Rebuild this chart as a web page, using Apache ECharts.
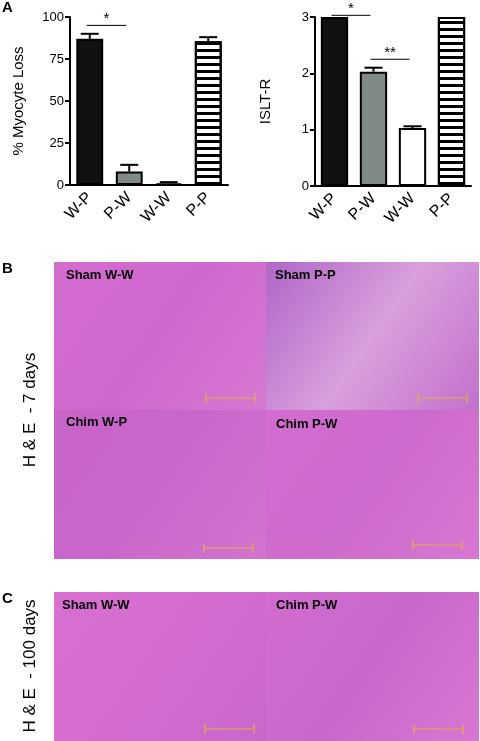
<!DOCTYPE html>
<html><head><meta charset="utf-8">
<script src="https://cdn.jsdelivr.net/npm/echarts@6/dist/echarts.min.js"></script>
<style>html,body{margin:0;padding:0;background:#fff}#c{width:480px;height:741px}</style>
</head><body><div id="c"></div>
<script>
// data
const groups = ['W-P', 'P-W', 'W-W', 'P-P'];
const lossValues = [87, 8, 1, 85.5];
const lossErrors = [3, 4, 0.7, 2.5];
const isltValues = [3, 2.03, 1.03, 3];
const isltErrors = [0, 0.07, 0.03, 0];
const lossTicks = [0, 25, 50, 75, 100];
const isltTicks = [0, 1, 2, 3];

const chart = echarts.init(document.getElementById('c'));
const FONT = 'Liberation Sans, Arial, sans-serif';

// bar styles per group
function barStyle(i) {
    const base = { borderColor: '#000', borderWidth: 2 };
    if (i === 0) return Object.assign(base, { color: '#111' });
    if (i === 1) return Object.assign(base, { color: '#7f8a85' });
    if (i === 2) return Object.assign(base, { color: '#fff' });
    return Object.assign(base, {
        color: '#fff',
        decal: { symbol: 'rect', symbolSize: 1, color: '#000', dashArrayX: [1, 0], dashArrayY: [3, 3.5], rotation: 0 }
    });
}
function barData(vals) {
    return vals.map((v, i) => ({ value: v, itemStyle: barStyle(i) }));
}
function errSeries(idx, vals, errs) {
    return {
        type: 'custom', xAxisIndex: idx, yAxisIndex: idx, z: 1,
        data: vals.map((v, i) => [i, v, errs[i]]),
        renderItem: function (params, api) {
            const i = api.value(0), v = api.value(1), e = api.value(2);
            if (!e) return null;
            const a = api.coord([i, v]), b = api.coord([i, v + e]);
            const st = { stroke: '#000', lineWidth: 2 };
            return { type: 'group', children: [
                { type: 'line', shape: { x1: a[0], y1: a[1], x2: b[0], y2: b[1] }, style: st },
                { type: 'line', shape: { x1: b[0] - 9, y1: b[1], x2: b[0] + 9, y2: b[1] }, style: st }
            ] };
        }
    };
}
function xAx(idx) {
    return {
        type: 'category', gridIndex: idx, data: groups,
        axisLine: { lineStyle: { color: '#000', width: 2 } },
        axisTick: { alignWithLabel: true, length: 6, lineStyle: { color: '#000', width: 2 } },
        axisLabel: { rotate: 45, color: '#000', fontSize: 16, fontFamily: FONT, margin: 10 }
    };
}
function yAx(idx, max, interval, name, gap) {
    return {
        type: 'value', gridIndex: idx, min: 0, max: max, interval: interval,
        name: name, nameLocation: 'middle', nameGap: gap, nameRotate: 90,
        nameTextStyle: { color: '#000', fontSize: 15, fontFamily: FONT },
        axisLine: { show: true, lineStyle: { color: '#000', width: 2 } },
        axisTick: { show: true, length: 5, lineStyle: { color: '#000', width: 2 } },
        axisLabel: { color: '#000', fontSize: 13, fontFamily: FONT, margin: 6 },
        splitLine: { show: false }
    };
}

// histology panels (approximate tissue tones)
function tissue(x, y, w, h, c1, c2, c3) {
    return { type: 'rect', shape: { x: x, y: y, width: w, height: h }, silent: true,
        style: { fill: new echarts.graphic.LinearGradient(0, 0, 1, 1, [
            { offset: 0, color: c1 }, { offset: 0.5, color: c2 }, { offset: 1, color: c3 }]) } };
}
function label(x, y, t) {
    return { type: 'text', x: x, y: y, style: { text: t, font: 'bold 13px ' + FONT, fill: '#000' } };
}
function scaleBar(x, y) {
    return { type: 'group', children: [
        { type: 'line', shape: { x1: x, y1: y, x2: x + 49, y2: y }, style: { stroke: '#e0b040', lineWidth: 1.2 } },
        { type: 'line', shape: { x1: x, y1: y - 5, x2: x, y2: y + 5 }, style: { stroke: '#e0b040', lineWidth: 1.2 } },
        { type: 'line', shape: { x1: x + 49, y1: y - 5, x2: x + 49, y2: y + 5 }, style: { stroke: '#e0b040', lineWidth: 1.2 } }
    ] };
}
const pink1 = '#d46cd0', pink2 = '#c967cc', pink3 = '#d877d2';
const graphics = [
    { type: 'text', x: 2, y: 0, style: { text: 'A', font: 'bold 15px ' + FONT, fill: '#000' } },
    { type: 'text', x: 2, y: 261, style: { text: 'B', font: 'bold 15px ' + FONT, fill: '#000' } },
    { type: 'text', x: 2, y: 591, style: { text: 'C', font: 'bold 15px ' + FONT, fill: '#000' } },
    tissue(54, 262, 212, 148, pink1, '#cf68ce', pink3),
    tissue(266, 262, 213, 148, '#b066c8', '#d9a0dc', '#c370cc'),
    tissue(54, 410, 212, 149, '#c863c9', pink2, '#d472cf'),
    tissue(266, 410, 213, 149, pink1, '#cd6acd', pink3),
    tissue(54, 592, 212, 149, '#d870d2', pink1, '#c967cc'),
    tissue(266, 592, 213, 149, '#d26ccf', '#c868cb', pink3),
    label(66, 269, 'Sham W-W'), label(275, 269, 'Sham P-P'),
    label(66, 416, 'Chim W-P'), label(276, 418, 'Chim P-W'),
    label(62, 599, 'Sham W-W'), label(276, 599, 'Chim P-W'),
    scaleBar(206, 398), scaleBar(418, 398), scaleBar(204, 548), scaleBar(413, 545),
    scaleBar(205, 729), scaleBar(414, 729),
    { type: 'text', x: 30, y: 410, rotation: Math.PI / 2, style: { text: 'H & E  - 7 days', font: '17px ' + FONT, fill: '#000', align: 'center', verticalAlign: 'middle' } },
    { type: 'text', x: 30, y: 666, rotation: Math.PI / 2, style: { text: 'H & E  - 100 days', font: '17px ' + FONT, fill: '#000', align: 'center', verticalAlign: 'middle' } }
];

chart.setOption({
    animation: false,
    grid: [
        { left: 70, top: 17, width: 158, height: 168 },
        { left: 315, top: 17, width: 156, height: 169 }
    ],
    xAxis: [xAx(0), xAx(1)],
    yAxis: [yAx(0, 100, 25, '% Myocyte Loss', 44), yAx(1, 3, 1, 'ISLT-R', 42)],
    series: [
        { type: 'bar', xAxisIndex: 0, yAxisIndex: 0, barWidth: '68%', z: 2, data: barData(lossValues) },
        errSeries(0, lossValues, lossErrors),
        { type: 'bar', xAxisIndex: 1, yAxisIndex: 1, barWidth: '70%', z: 2, data: barData(isltValues) },
        errSeries(1, isltValues, isltErrors)
    ],
    graphic: graphics
});

// significance brackets placed via axis scales
function bracket(gi, i1, i2, v, stars) {
    const a = chart.convertToPixel({ gridIndex: gi }, [i1, v]);
    const b = chart.convertToPixel({ gridIndex: gi }, [i2, v]);
    return { type: 'group', children: [
        { type: 'line', shape: { x1: a[0] - 3, y1: a[1], x2: b[0] - 3, y2: b[1] }, style: { stroke: '#000', lineWidth: 1 } },
        { type: 'text', x: (a[0] + b[0]) / 2 - 3, y: a[1] + 1, style: { text: stars, font: '15px ' + FONT, fill: '#000', align: 'center', verticalAlign: 'bottom' } }
    ] };
}
chart.setOption({ graphic: graphics.concat([
    bracket(0, 0, 1, 95, '*'),
    bracket(1, 0, 1, 3.03, '*'),
    bracket(1, 1, 2, 2.25, '**')
]) });
</script>
</body></html>
